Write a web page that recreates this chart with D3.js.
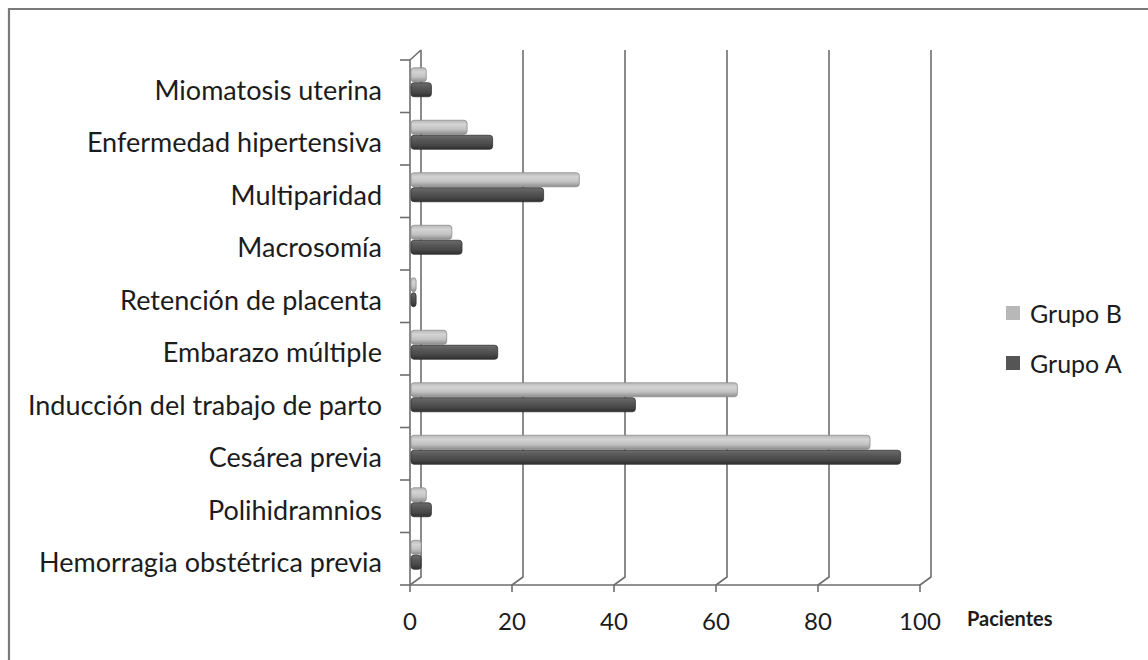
<!DOCTYPE html>
<html>
<head>
<meta charset="utf-8">
<script src="https://cdn.jsdelivr.net/npm/d3@7"></script>
<style>
  html, body { margin: 0; padding: 0; background: #fff; }
  svg { display: block; }
  text { font-family: Lato, "Open Sans", sans-serif; }
</style>
</head>
<body>
<svg id="chart" width="1148" height="660"></svg>
<script>
// Factores de riesgo por grupo (número de pacientes)
const categories = [
  "Miomatosis uterina",
  "Enfermedad hipertensiva",
  "Multiparidad",
  "Macrosomía",
  "Retención de placenta",
  "Embarazo múltiple",
  "Inducción del trabajo de parto",
  "Cesárea previa",
  "Polihidramnios",
  "Hemorragia obstétrica previa"
];
const grupoB = [3, 11, 33, 8, 1, 7, 64, 90, 3, 2];
const grupoA = [4, 16, 26, 10, 1, 17, 44, 96, 4, 2];
const seriesNames = ["Grupo B", "Grupo A"];
const xTicks = [0, 20, 40, 60, 80, 100];
const axisTitle = "Pacientes";

const svg = d3.select("#chart");

// outer frame
svg.append("path")
  .attr("d", "M9,660 L9,9 L1148,9")
  .attr("fill", "none").attr("stroke", "#7a7a7a").attr("stroke-width", 2.2);

// scales (front plane) and depth offset of the back wall
const x = d3.scaleLinear().domain([0, 100]).range([410, 920]);
const y = d3.scaleBand().domain(categories).range([60, 585]);
const depth = { dx: 11, dy: -8 };
const barShift = { dx: 1, dy: -4 };
const groupH = 30;
const sub = d3.scaleBand().domain(seriesNames).range([0, groupH]);

const defs = svg.append("defs");
function grad(id, stops) {
  const g = defs.append("linearGradient").attr("id", id)
    .attr("x1", 0).attr("y1", 0).attr("x2", 0).attr("y2", 1);
  stops.forEach(([o, c]) => g.append("stop").attr("offset", o).attr("stop-color", c));
}
grad("gB", [["0", "#b8b8b8"], ["0.3", "#d4d4d4"], ["0.65", "#c2c2c2"], ["1", "#8e8e8e"]]);
grad("gA", [["0", "#6c6c6c"], ["0.3", "#5a5a5a"], ["0.7", "#474747"], ["1", "#2e2e2e"]]);
const fills = { "Grupo B": "url(#gB)", "Grupo A": "url(#gA)" };
const strokes = { "Grupo B": "#8e8e8e", "Grupo A": "#333" };
const legendFill = { "Grupo B": "#b8b8b8", "Grupo A": "#555" };

const y0 = y.range()[0], y1 = y.range()[1];
const gridColor = "#6e6e6e";

// back wall gridlines with floor joins and front ticks
const grid = svg.append("g").attr("fill", "none").attr("stroke", gridColor).attr("stroke-width", 1.6);
xTicks.forEach(t => {
  const xf = x(t), xb = xf + depth.dx;
  grid.append("path")
    .attr("d", `M${xf},${y1 + 7} L${xf},${y1} L${xb},${y1 + depth.dy} L${xb},${y0 + depth.dy - 2}`);
});
// front left axis with its top join to the back wall
grid.append("path")
  .attr("d", `M${x(0)},${y1} L${x(0)},${y0} L${x(0) + depth.dx},${y0 + depth.dy - 2}`);
// floor front edge
grid.append("line")
  .attr("x1", x(0)).attr("x2", x(100)).attr("y1", y1).attr("y2", y1);
// category ticks
const catTicks = categories.map(c => y(c)).concat([y1]);
catTicks.forEach(v => {
  grid.append("line").attr("x1", x(0) - 10).attr("x2", x(0)).attr("y1", v).attr("y2", v);
});

// bars
const rows = categories.map((c, i) => ({ c, vals: { "Grupo B": grupoB[i], "Grupo A": grupoA[i] } }));
const barG = svg.append("g");
rows.forEach(r => {
  seriesNames.forEach(s => {
    const v = r.vals[s];
    const top = y(r.c) + (y.bandwidth() - groupH) / 2 + barShift.dy + sub(s);
    const left = x(0) + barShift.dx;
    barG.append("rect")
      .attr("x", left)
      .attr("y", top + 0.5)
      .attr("width", Math.max(x(v) - x(0), 2))
      .attr("height", sub.bandwidth() - 1)
      .attr("rx", 3).attr("ry", 3)
      .attr("fill", fills[s])
      .attr("stroke", strokes[s]).attr("stroke-width", 0.8);
  });
});

// category labels
svg.append("g").selectAll("text").data(categories).join("text")
  .attr("x", 382)
  .attr("y", d => y(d) + y.bandwidth() / 2 + 3)
  .attr("dominant-baseline", "central")
  .attr("text-anchor", "end")
  .attr("font-size", 27)
  .attr("fill", "#1c1c1c")
  .text(d => d);

// value axis labels
svg.append("g").selectAll("text").data(xTicks).join("text")
  .attr("x", d => x(d))
  .attr("y", 630)
  .attr("text-anchor", "middle")
  .attr("font-size", 24)
  .attr("fill", "#1c1c1c")
  .text(d => d);

svg.append("text")
  .attr("x", 967).attr("y", 626)
  .attr("font-size", 20).attr("font-weight", "bold")
  .attr("fill", "#1c1c1c")
  .text(axisTitle);

// legend
const legend = svg.append("g");
seriesNames.forEach((s, i) => {
  const ly = 313 + i * 50;
  legend.append("rect")
    .attr("x", 1006).attr("y", ly - 7).attr("width", 14).attr("height", 14)
    .attr("fill", legendFill[s]);
  legend.append("text")
    .attr("x", 1030).attr("y", ly)
    .attr("dominant-baseline", "central")
    .attr("font-size", 25).attr("fill", "#1c1c1c")
    .text(s);
});
</script>
</body>
</html>
